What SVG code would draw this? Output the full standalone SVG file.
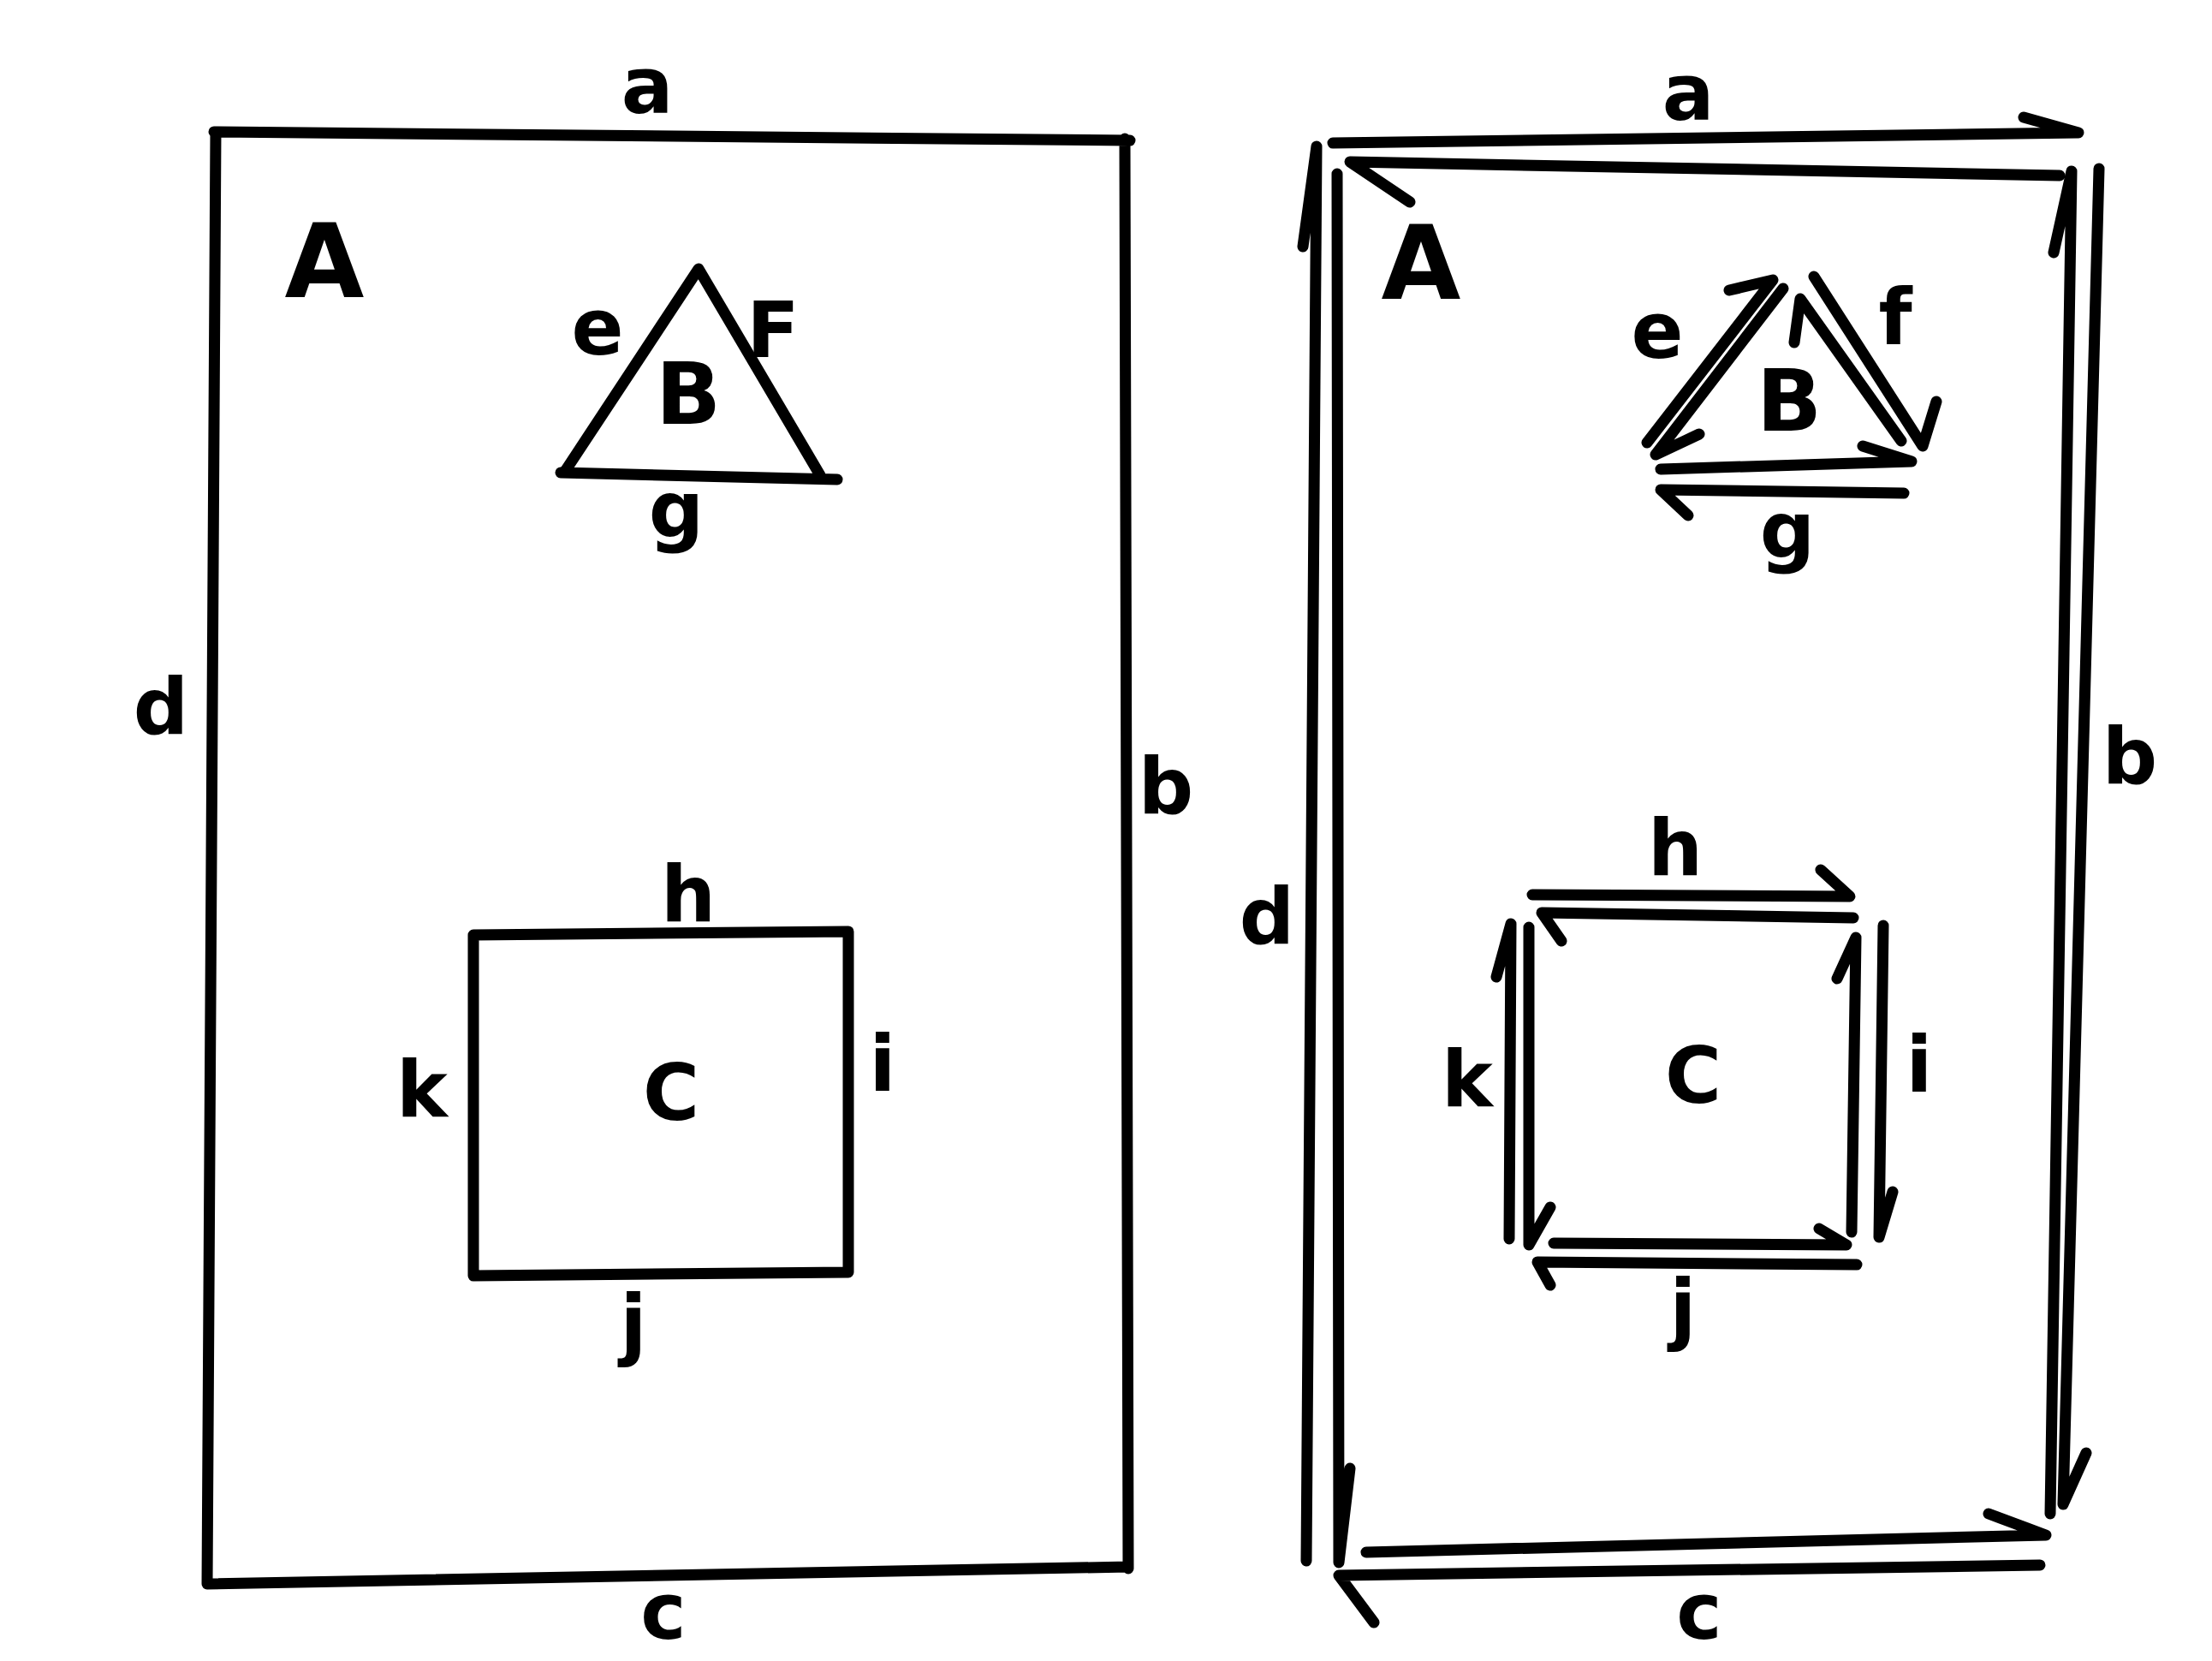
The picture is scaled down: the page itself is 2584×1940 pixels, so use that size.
<svg xmlns="http://www.w3.org/2000/svg" width="2584" height="1940" viewBox="0 0 2584 1940">
<style>
.ln{fill:none;stroke:#000;stroke-width:13;stroke-linecap:round;stroke-linejoin:round}
.lb{font-family:"DejaVu Sans","Liberation Sans",sans-serif;font-weight:bold;font-size:90px;fill:#000;text-anchor:middle}
.rg{font-size:120px}
.rg2{font-size:100px}
</style>
<rect width="2584" height="1940" fill="#fff"/>

<!-- LEFT DIAGRAM -->
<g id="left-A">
<path class="ln" d="M250,154 L1320,164 M1314,162 L1318,1832 M1318,1830 L242,1850 M242,1850 L252,154"/>
<text class="lb rg" x="379" y="347">A</text>
</g>
<g id="left-B">
<path class="ln" d="M659,552 L816,314 L958,555 M655,552 L978,560"/>
<text class="lb rg2" x="804" y="495">B</text>
</g>
<g id="left-C">
<path class="ln" d="M553,1092 L991,1088 L991,1486 L553,1490 Z"/>
<text class="lb" x="784" y="1308">C</text>
</g>
<g id="left-labels">
<text class="lb" x="756" y="132">a</text>
<text class="lb" x="1362" y="950">b</text>
<text class="lb" x="775" y="1914">c</text>
<text class="lb" x="188" y="857">d</text>
<text class="lb" x="698" y="414">e</text>
<text class="lb" x="903" y="417">F</text>
<text class="lb" x="790" y="627">g</text>
<text class="lb" x="804" y="1076">h</text>
<text class="lb" x="1031" y="1274">i</text>
<text class="lb" x="740" y="1577">j</text>
<text class="lb" x="493" y="1304">k</text>
</g>

<!-- RIGHT DIAGRAM -->
<g id="right-A"><text class="lb rg" x="1660" y="349">A</text></g>
<g id="right-B"><text class="lb rg2" x="2090" y="503">B</text></g>
<g id="right-C"><text class="lb" x="1978" y="1288">C</text></g>

<g id="connectors">
<!-- a -->
<path class="ln" d="M1557,167 L2428,155 L2364,137"/>
<path class="ln" d="M2406,205 L1577,189 L1647,236"/>
<!-- b -->
<path class="ln" d="M2395,1768 L2420,200 L2399,295"/>
<path class="ln" d="M2452,197 L2410,1757 L2437,1697"/>
<!-- c -->
<path class="ln" d="M1596,1813 L2390,1793 L2323,1768"/>
<path class="ln" d="M2383,1828 L1564,1840 L1605,1895"/>
<!-- d -->
<path class="ln" d="M1526,1823 L1538,171 L1522,288"/>
<path class="ln" d="M1562,203 L1564,1825 L1577,1715"/>
<!-- e -->
<path class="ln" d="M1924,517 L2071,327 L2020,339"/>
<path class="ln" d="M2083,337 L1934,531 L1985,507"/>
<!-- f -->
<path class="ln" d="M2119,323 L2246,521 L2262,469"/>
<path class="ln" d="M2221,515 L2103,349 L2096,400"/>
<!-- g -->
<path class="ln" d="M1940,548 L2233,539 L2176,521"/>
<path class="ln" d="M2224,576 L1940,572 L1972,602"/>
<!-- h -->
<path class="ln" d="M1790,1045 L2161,1047 L2127,1016"/>
<path class="ln" d="M2165,1072 L1801,1066 L1824,1099"/>
<!-- i -->
<path class="ln" d="M2163,1439 L2168,1095 L2146,1143"/>
<path class="ln" d="M2200,1081 L2195,1445 L2211,1392"/>
<!-- j -->
<path class="ln" d="M1815,1452 L2157,1454 L2125,1435"/>
<path class="ln" d="M2169,1477 L1796,1474 L1811,1501"/>
<!-- k -->
<path class="ln" d="M1763,1447 L1765,1079 L1748,1141"/>
<path class="ln" d="M1786,1083 L1786,1454 L1811,1410"/>

<text class="lb" x="1972" y="140">a</text>
<text class="lb" x="2488" y="915">b</text>
<text class="lb" x="1985" y="1914">c</text>
<text class="lb" x="1480" y="1102">d</text>
<text class="lb" x="1936" y="418">e</text>
<text class="lb" x="2214" y="402">f</text>
<text class="lb" x="2088" y="651">g</text>
<text class="lb" x="1957" y="1022">h</text>
<text class="lb" x="2242" y="1275">i</text>
<text class="lb" x="1966" y="1559">j</text>
<text class="lb" x="1714" y="1292">k</text>
</g>
</svg>
